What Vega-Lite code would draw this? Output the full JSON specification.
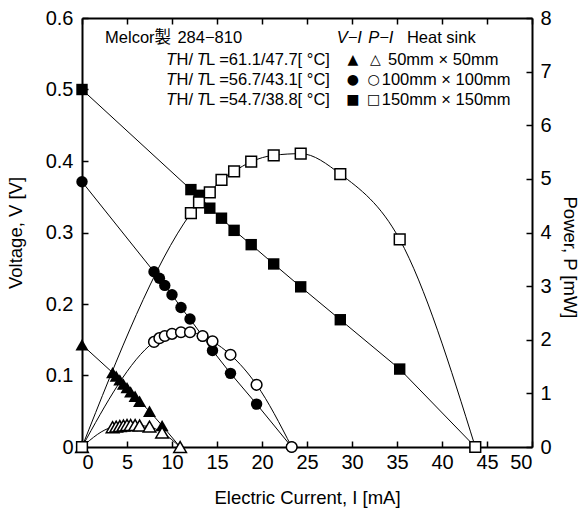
{
  "$schema": "https://vega.github.io/schema/vega-lite/v6.json",
  "autosize": {"type": "none"},
  "width": 450,
  "height": 429,
  "padding": {"left": 82, "top": 18, "right": 53, "bottom": 66},
  "background": "white",
  "config": {
    "font": "Liberation Sans",
    "view": {"stroke": null},
    "axis": {
      "domainColor": "black", "domainWidth": 2,
      "tickColor": "black", "tickWidth": 1.5, "tickSize": -6,
      "labelColor": "black", "labelFont": "Liberation Sans", "labelFontSize": 20,
      "titleFont": "Liberation Sans", "titleFontSize": 18.5, "titleFontWeight": "normal", "titleColor": "black",
      "grid": false, "labelPadding": 12
    }
  },
  "datasets": {
    "pts": [
      {"s": "tri", "I": 0, "V": 0.143, "P": 0},
      {"s": "tri", "I": 3.4, "V": 0.104, "P": 0.37},
      {"s": "tri", "I": 3.8, "V": 0.099, "P": 0.38},
      {"s": "tri", "I": 4.2, "V": 0.094, "P": 0.39},
      {"s": "tri", "I": 4.6, "V": 0.088, "P": 0.40},
      {"s": "tri", "I": 5.0, "V": 0.083, "P": 0.41},
      {"s": "tri", "I": 5.4, "V": 0.077, "P": 0.41},
      {"s": "tri", "I": 5.9, "V": 0.071, "P": 0.41},
      {"s": "tri", "I": 6.4, "V": 0.064, "P": 0.40},
      {"s": "tri", "I": 7.5, "V": 0.050, "P": 0.38},
      {"s": "tri", "I": 8.9, "V": 0.030, "P": 0.27},
      {"s": "tri", "I": 10.9, "V": 0, "P": 0},
      {"s": "circ", "I": 0, "V": 0.371, "P": 0},
      {"s": "circ", "I": 8.0, "V": 0.245, "P": 1.96},
      {"s": "circ", "I": 8.6, "V": 0.236, "P": 2.03},
      {"s": "circ", "I": 9.2, "V": 0.226, "P": 2.07},
      {"s": "circ", "I": 10.0, "V": 0.213, "P": 2.11},
      {"s": "circ", "I": 11.0, "V": 0.195, "P": 2.14},
      {"s": "circ", "I": 12.0, "V": 0.179, "P": 2.14},
      {"s": "circ", "I": 13.4, "V": 0.155, "P": 2.07},
      {"s": "circ", "I": 14.5, "V": 0.135, "P": 1.97},
      {"s": "circ", "I": 16.5, "V": 0.103, "P": 1.72},
      {"s": "circ", "I": 19.4, "V": 0.060, "P": 1.16},
      {"s": "circ", "I": 23.3, "V": 0, "P": 0},
      {"s": "sq", "I": 0, "V": 0.500, "P": 0},
      {"s": "sq", "I": 12.1, "V": 0.360, "P": 4.36},
      {"s": "sq", "I": 13.0, "V": 0.352, "P": 4.56},
      {"s": "sq", "I": 14.2, "V": 0.334, "P": 4.75},
      {"s": "sq", "I": 15.5, "V": 0.320, "P": 4.98},
      {"s": "sq", "I": 16.9, "V": 0.303, "P": 5.14},
      {"s": "sq", "I": 18.8, "V": 0.283, "P": 5.32},
      {"s": "sq", "I": 21.3, "V": 0.256, "P": 5.44},
      {"s": "sq", "I": 24.3, "V": 0.224, "P": 5.47},
      {"s": "sq", "I": 28.7, "V": 0.178, "P": 5.09},
      {"s": "sq", "I": 35.3, "V": 0.109, "P": 3.87},
      {"s": "sq", "I": 43.7, "V": 0, "P": 0}
    ],
    "txtN": [
      {"I": 2.56, "V": 0.572, "t": "Melcor製"},
      {"I": 10.6, "V": 0.572, "t": "284−810"},
      {"I": 36.1, "V": 0.572, "t": "Heat sink"},
      {"I": 10.5, "V": 0.541, "t": "H/"},
      {"I": 13.78, "V": 0.541, "t": "L =61.1/47.7[ °C]"},
      {"I": 34.0, "V": 0.541, "t": "50mm × 50mm"},
      {"I": 10.5, "V": 0.513, "t": "H/"},
      {"I": 13.78, "V": 0.513, "t": "L =56.7/43.1[ °C]"},
      {"I": 33.3, "V": 0.513, "t": "100mm × 100mm"},
      {"I": 10.5, "V": 0.485, "t": "H/"},
      {"I": 13.78, "V": 0.485, "t": "L =54.7/38.8[ °C]"},
      {"I": 33.3, "V": 0.485, "t": "150mm × 150mm"}
    ],
    "txtS": [
      {"I": 30.1, "V": 0.541, "t": "▲"},
      {"I": 32.6, "V": 0.541, "t": "△"},
      {"I": 30.1, "V": 0.513, "t": "●"},
      {"I": 32.4, "V": 0.513, "t": "○"},
      {"I": 30.1, "V": 0.485, "t": "■"},
      {"I": 32.4, "V": 0.485, "t": "□"}
    ],
    "txtI": [
      {"I": 28.3, "V": 0.572, "t": "V−I"},
      {"I": 31.8, "V": 0.572, "t": "P−I"},
      {"I": 9.33, "V": 0.541, "t": "T"},
      {"I": 12.74, "V": 0.541, "t": "T"},
      {"I": 9.33, "V": 0.513, "t": "T"},
      {"I": 12.74, "V": 0.513, "t": "T"},
      {"I": 9.33, "V": 0.485, "t": "T"},
      {"I": 12.74, "V": 0.485, "t": "T"}
    ]
  },
  "layer": [
    {
      "data": {"name": "pts"},
      "encoding": {
        "x": {"field": "I", "type": "quantitative", "scale": {"domain": [0, 50], "nice": false},
              "axis": {"orient": "bottom", "values": [0, 5, 10, 15, 20, 25, 30, 35, 40, 45, 50], "title": "Electric Current, I  [mA]", "titlePadding": 16, "labelPadding": 11}},
        "y": {"field": "V", "type": "quantitative", "scale": {"domain": [0, 0.6], "nice": false},
              "axis": {"orient": "left", "values": [0, 0.1, 0.2, 0.3, 0.4, 0.5, 0.6], "format": ".1~f", "title": "Voltage, V  [V]", "titlePadding": 20, "labelPadding": 15}}
      },
      "layer": [
        {"mark": {"type": "line", "stroke": "black", "strokeWidth": 1}, "encoding": {"detail": {"field": "s"}}},
        {"transform": [{"filter": "datum.s == 'tri'"}],
         "mark": {"type": "point", "shape": "triangle-up", "filled": true, "fill": "black", "stroke": null, "opacity": 1, "size": 170}},
        {"transform": [{"filter": "datum.s != 'tri'"}],
         "mark": {"type": "point", "filled": true, "fill": "black", "stroke": null, "opacity": 1, "size": 130},
         "encoding": {"shape": {"field": "s", "type": "nominal", "scale": {"domain": ["circ", "sq"], "range": ["circle", "square"]}, "legend": null}}},
        {"data": {"name": "txtN"}, "mark": {"type": "text", "align": "left", "baseline": "middle", "fontSize": 16.5, "color": "black", "font": "Liberation Sans, Noto Sans CJK JP"},
         "encoding": {"text": {"field": "t"}}},
        {"data": {"name": "txtS"}, "mark": {"type": "text", "align": "center", "baseline": "middle", "fontSize": 14, "color": "black", "font": "DejaVu Sans"},
         "encoding": {"text": {"field": "t"}}},
        {"data": {"name": "txtI"}, "mark": {"type": "text", "align": "left", "baseline": "middle", "fontSize": 16.5, "color": "black", "fontStyle": "italic", "font": "Liberation Sans"},
         "encoding": {"text": {"field": "t"}}}
      ]
    },
    {
      "data": {"name": "pts"},
      "encoding": {
        "x": {"field": "I", "type": "quantitative", "scale": {"domain": [0, 50], "nice": false},
              "axis": {"orient": "top", "values": [0, 5, 10, 15, 20, 25, 30, 35, 40, 45, 50], "labels": false, "title": null}},
        "y": {"field": "P", "type": "quantitative", "scale": {"domain": [0, 8], "nice": false},
              "axis": {"orient": "right", "values": [0, 1, 2, 3, 4, 5, 6, 7, 8], "title": "Power, P  [mW]", "titlePadding": 8, "labelPadding": 14, "titleY": 239}}
      },
      "layer": [
        {"mark": {"type": "line", "stroke": "black", "strokeWidth": 1, "interpolate": "monotone"}, "encoding": {"detail": {"field": "s"}}},
        {"transform": [{"filter": "datum.s == 'tri'"}],
         "mark": {"type": "point", "shape": "triangle-up", "filled": true, "fill": "white", "stroke": "black", "strokeWidth": 1.5, "opacity": 1, "size": 160}},
        {"transform": [{"filter": "datum.s != 'tri'"}],
         "mark": {"type": "point", "filled": true, "fill": "white", "stroke": "black", "strokeWidth": 1.5, "opacity": 1, "size": 115},
         "encoding": {"shape": {"field": "s", "type": "nominal", "scale": {"domain": ["circ", "sq"], "range": ["circle", "square"]}, "legend": null}}}
      ]
    }
  ],
  "resolve": {"scale": {"y": "independent"}, "axis": {"x": "independent"}}
}
